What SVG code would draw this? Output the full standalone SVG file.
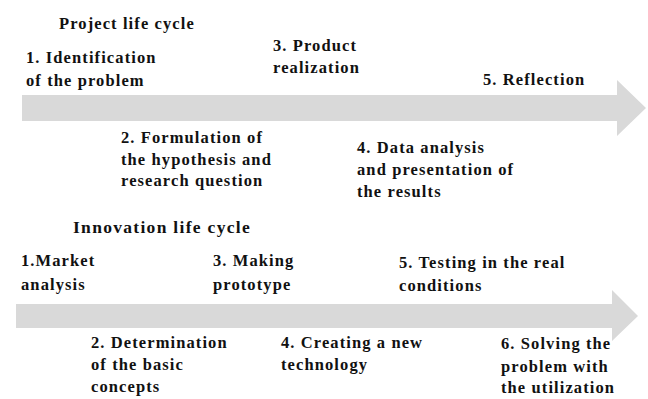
<svg xmlns="http://www.w3.org/2000/svg" width="648" height="399" viewBox="0 0 648 399">
  <style>
    .bg { fill: #ffffff; }
    .arrow { fill: #d9d9d9; stroke: none; }
    text { font-family: 'Liberation Serif', 'DejaVu Serif', serif; font-weight: 700; font-size: 16.5px; letter-spacing: 1.1px; fill: #111111; }
    text.big { font-size: 17.5px; letter-spacing: 1.3px; }
  </style>
  <rect class="bg" x="0" y="0" width="648" height="399"/>

  <!-- timeline arrows -->
  <g id="connectors">
    <polygon class="arrow" points="22,95 617,95 617,80 646,108 617,136 617,121 22,121"/>
    <polygon class="arrow" points="16,304 612,304 612,290 638,316 612,341 612,328 16,328"/>
  </g>

  <!-- project life cycle -->
  <g id="project-title"><text x="59" y="29">Project life cycle</text></g>
  <g id="p1">
    <text x="26" y="63">1. Identification</text>
    <text x="26" y="86">of the problem</text>
  </g>
  <g id="p2">
    <text x="121" y="143">2. Formulation of</text>
    <text x="121" y="164.5">the hypothesis and</text>
    <text x="121" y="186">research question</text>
  </g>
  <g id="p3">
    <text x="273" y="51">3. Product</text>
    <text x="273" y="73">realization</text>
  </g>
  <g id="p4">
    <text x="357" y="153">4. Data analysis</text>
    <text x="357" y="175">and presentation of</text>
    <text x="357" y="196.5">the results</text>
  </g>
  <g id="p5"><text x="483" y="85">5. Reflection</text></g>

  <!-- innovation life cycle -->
  <g id="innovation-title"><text class="big" x="73" y="233">Innovation life cycle</text></g>
  <g id="i1">
    <text x="21" y="266">1.Market</text>
    <text x="21" y="290">analysis</text>
  </g>
  <g id="i2">
    <text x="91" y="348">2. Determination</text>
    <text x="91" y="370">of the basic</text>
    <text x="91" y="392">concepts</text>
  </g>
  <g id="i3">
    <text x="213" y="266">3. Making</text>
    <text x="213" y="290">prototype</text>
  </g>
  <g id="i4">
    <text x="281" y="348">4. Creating a new</text>
    <text x="281" y="370">technology</text>
  </g>
  <g id="i5">
    <text x="399" y="268">5. Testing in the real</text>
    <text x="399" y="291">conditions</text>
  </g>
  <g id="i6">
    <text x="501" y="349">6. Solving the</text>
    <text x="501" y="371.5">problem with</text>
    <text x="501" y="393">the utilization</text>
  </g>
</svg>
